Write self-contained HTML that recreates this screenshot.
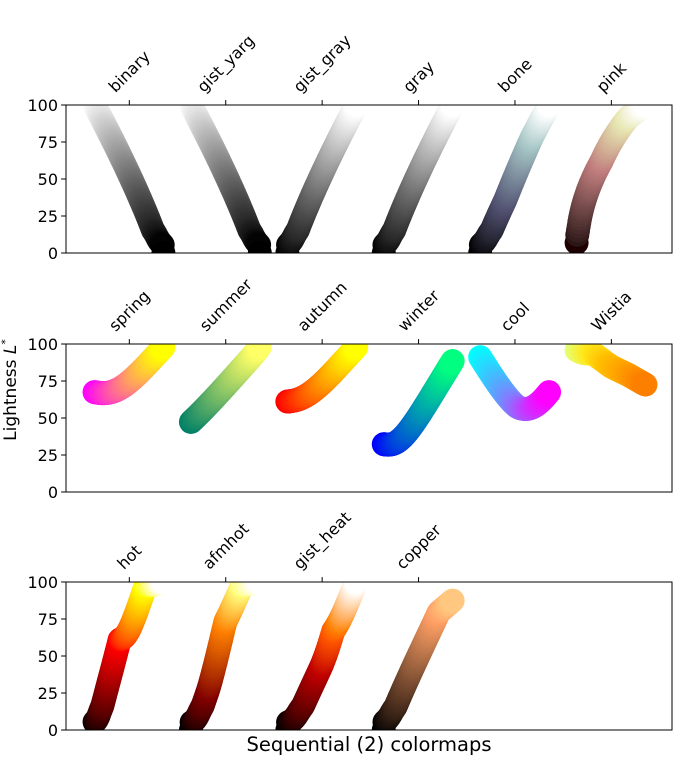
<!DOCTYPE html>
<html><head><meta charset="utf-8">
<style>
html,body{margin:0;padding:0;background:#fff;}
svg{display:block;font-family:"DejaVu Sans","Liberation Sans",sans-serif;}
</style></head>
<body>
<svg id="s" width="700" height="780" viewBox="0 0 700 780" xmlns="http://www.w3.org/2000/svg">
<defs>
<clipPath id="c0"><rect x="66" y="105" width="606" height="148"/></clipPath>
<clipPath id="c1"><rect x="66" y="344" width="606" height="148"/></clipPath>
<clipPath id="c2"><rect x="66" y="582" width="606" height="148"/></clipPath>
</defs>
<g id="g0" clip-path="url(#c0)"></g>
<g id="g1" clip-path="url(#c1)"></g>
<g id="g2" clip-path="url(#c2)"></g>
<g id="axes" fill="none" stroke="#000" stroke-width="1"></g>
<g id="txt" font-size="16" fill="#000"></g>
<text x="16" y="390" font-size="17" text-anchor="middle" transform="rotate(-90 16 390)">Lightness <tspan font-style="italic">L</tspan><tspan dy="-7" font-size="11">*</tspan></text>
<text x="369" y="751" font-size="19.5" text-anchor="middle">Sequential (2) colormaps</text>
<g id="lbl" font-size="16" fill="#000">
<text>binary</text><text>gist_yarg</text><text>gist_gray</text><text>gray</text><text>bone</text><text>pink</text>
<text>spring</text><text>summer</text><text>autumn</text><text>winter</text><text>cool</text><text>Wistia</text>
<text>hot</text><text>afmhot</text><text>gist_heat</text><text>copper</text>
</g>
</svg>
<script>
const NS="http://www.w3.org/2000/svg";
function cl(v){return Math.max(0,Math.min(1,v));}
function seg(pts,x){for(let i=1;i<pts.length;i++){if(x<=pts[i][0]){const a=pts[i-1],b=pts[i];return a[1]+(b[1]-a[1])*(x-a[0])/(b[0]-a[0]);}}return pts[pts.length-1][1];}
function hot(x){return [seg([[0,0.0416],[0.365079,1],[1,1]],x),seg([[0,0],[0.365079,0],[0.746032,1],[1,1]],x),seg([[0,0],[0.746032,0],[1,1]],x)];}
function hexc(h){return [parseInt(h.substr(1,2),16)/255,parseInt(h.substr(3,2),16)/255,parseInt(h.substr(5,2),16)/255];}
const wist=["#e4ff7a","#ffe81a","#ffbd00","#ffa000","#fc7f00"].map(hexc);
const C={
binary:x=>[1-x,1-x,1-x],gist_yarg:x=>[1-x,1-x,1-x],gist_gray:x=>[x,x,x],gray:x=>[x,x,x],
bone:x=>[seg([[0,0],[0.746032,0.652778],[1,1]],x),seg([[0,0],[0.365079,0.319444],[0.746032,0.777778],[1,1]],x),seg([[0,0],[0.365079,0.444444],[1,1]],x)],
pink:x=>{const h=hot(x);return h.map(v=>Math.sqrt((2*x+v)/3));},
spring:x=>[1,x,1-x],summer:x=>[x,0.5+x/2,0.4],autumn:x=>[1,x,0],winter:x=>[0,x,1-x/2],cool:x=>[x,1-x,1],
Wistia:x=>{const t=x*4,i=Math.min(3,Math.floor(t)),f=t-i;return [0,1,2].map(k=>wist[i][k]+(wist[i+1][k]-wist[i][k])*f);},
hot:hot,afmhot:x=>[cl(2*x),cl(2*x-0.5),cl(2*x-1)],gist_heat:x=>[cl(1.5*x),cl(2*x-1),cl(4*x-3)],
copper:x=>[Math.min(1,1.25*x),0.7812*x,0.4975*x]};
function lin(v){return v<=0.04045?v/12.92:Math.pow((v+0.055)/1.055,2.4);}
function L(c){const r=lin(c[0]),g=lin(c[1]),b=lin(c[2]);const Y=0.2126*r+0.7152*g+0.0722*b;
 const f=Y>0.008856?Math.cbrt(Y):7.787*Y+16/116;let l=116*f-16;l+=10*Math.max(0,r-Y);if(Y<0.02)l+=5*(1-Y/0.02)*(c[0]>0?1:0);return Math.max(0,l);}
const rows=[["binary","gist_yarg","gist_gray","gray","bone","pink"],["spring","summer","autumn","winter","cool","Wistia"],["hot","afmhot","gist_heat","copper"]];
const tops=[105,344,582],H=148,x0=66,W=606,xmin=-0.4,xmax=8.4;
const sx=v=>x0+1+(v-xmin)/(xmax-xmin)*W;
const ax=document.getElementById("axes"),tx=document.getElementById("txt");
function el(n,a,p){const e=document.createElementNS(NS,n);for(const k in a)e.setAttribute(k,a[k]);p.appendChild(e);return e;}
const lbls=document.querySelectorAll("#lbl text");let li=0;
rows.forEach((row,ri)=>{
 const top=tops[ri],g=document.getElementById("g"+ri);
 row.forEach((name,j)=>{
  for(let i=0;i<100;i++){const x=i/99;const c=C[name](x);const l=L(c);
   el("circle",{cx:sx(x+j*1.4).toFixed(2),cy:(top+H-l/100*H).toFixed(2),r:12,fill:"rgb("+c.map(v=>Math.round(cl(v)*255)).join(",")+")"},g);}
  const tk=sx(50/99+j*1.4);
  el("line",{x1:tk,x2:tk,y1:top,y2:top-4.9},ax);
  const t=lbls[li++];const w=t.getComputedTextLength()||t.textContent.length*9;
  const bh=(w+16)*0.7071;const cx=tk,cy=top-10-bh/2;
  t.setAttribute("x",cx);t.setAttribute("y",cy);t.setAttribute("text-anchor","middle");
  t.setAttribute("dominant-baseline","central");t.setAttribute("transform","rotate(-45 "+cx+" "+cy+")");
 });
 el("rect",{x:x0,y:top,width:W,height:H},ax);
 [0,25,50,75,100].forEach(v=>{const y=top+H-v/100*H;el("line",{x1:x0,x2:x0-4.9,y1:y,y2:y},ax);
  const t=el("text",{x:x0-8,y:y+6,"text-anchor":"end"},tx);t.textContent=v;});
});
</script>
</body></html>
